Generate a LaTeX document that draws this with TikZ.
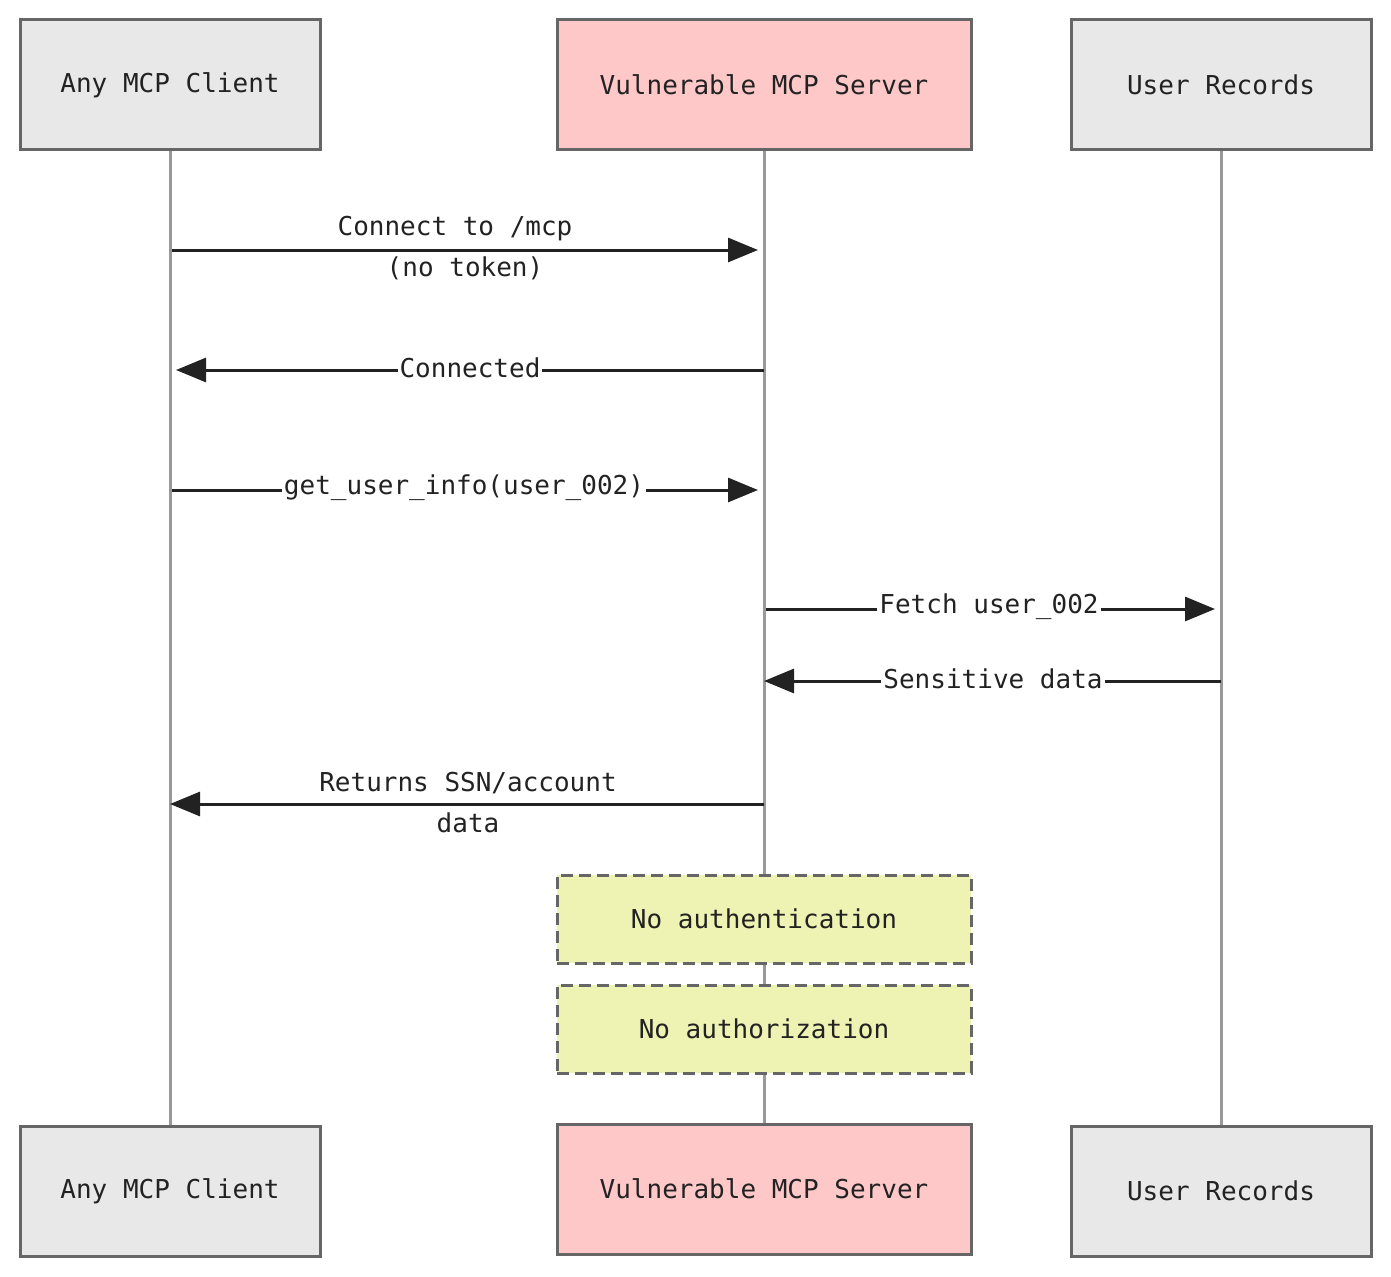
\documentclass[tikz,border=0pt]{standalone}
\usepackage{fontspec}
\setmonofont{DejaVu Sans Mono}
\usetikzlibrary{arrows.meta}
\definecolor{boxg}{HTML}{E8E8E8}
\definecolor{boxr}{HTML}{FFC8C8}
\definecolor{notec}{HTML}{EEF3B3}
\definecolor{bord}{HTML}{666666}
\definecolor{life}{HTML}{999999}
\definecolor{ink}{HTML}{222222}
\begin{document}
\begin{tikzpicture}[x=1pt,y=-1pt,
  every node/.style={font=\ttfamily\fontsize{26}{38}\selectfont, text=ink},
  actor/.style={draw=bord, line width=3pt, minimum height=130pt, inner sep=0pt},
  life/.style={draw=life, line width=3pt},
  msg/.style={draw=ink, line width=3pt, -{Triangle[length=30pt,width=24pt]}},
  lbl/.style={fill=white, inner sep=2pt},
  note/.style={draw=bord, fill=notec, line width=3pt, dash pattern=on 12pt off 6pt, minimum width=414pt, minimum height=88pt, inner sep=0pt}]
\useasboundingbox (0,0) rectangle (1391,1276);
% lifelines
\coordinate (c1) at (170,150); \coordinate (c2) at (170,1126);
\coordinate (s1) at (764,150); \coordinate (s2) at (764,1124);
\coordinate (r1) at (1221,150); \coordinate (r2) at (1221,1126);
\draw[life] (c1) -- (c2);
\draw[life] (s1) -- (s2);
\draw[life] (r1) -- (r2);
% actors
\node[actor, fill=boxg, minimum width=300pt] (ct) at (170,85) {Any MCP Client};
\node[actor, fill=boxr, minimum width=414pt] (st) at (764,85) {Vulnerable MCP Server};
\node[actor, fill=boxg, minimum width=300pt] (rt) at (1221,85) {User Records};
\node[actor, fill=boxg, minimum width=300pt] (cb) at (170,1191) {Any MCP Client};
\node[actor, fill=boxr, minimum width=414pt] (sb) at (764,1189) {Vulnerable MCP Server};
\node[actor, fill=boxg, minimum width=300pt] (rb) at (1221,1191) {User Records};
% messages
\coordinate (a1) at (172,250); \coordinate (b1) at (758,250);
\draw[msg] (a1) -- (b1);
\node[lbl] (l1) at (455,229) {Connect to /mcp};
\node (l1b) at (465,268) {(no token)};
\coordinate (a2) at (764,370); \coordinate (b2) at (176,370);
\draw[msg] (a2) -- (b2);
\node[lbl] (l2) at (470,368) {Connected};
\coordinate (a3) at (172,490); \coordinate (b3) at (758,490);
\draw[msg] (a3) -- (b3);
\node[lbl] (l3) at (464,488) {get\_user\_info(user\_002)};
\coordinate (a4) at (766,609); \coordinate (b4) at (1215,609);
\draw[msg] (a4) -- (b4);
\node[lbl] (l4) at (989,607) {Fetch user\_002};
\coordinate (a5) at (1221,681); \coordinate (b5) at (764,681);
\draw[msg] (a5) -- (b5);
\node[lbl] (l5) at (993,679) {Sensitive data};
\coordinate (a6) at (764,804); \coordinate (b6) at (170,804);
\draw[msg] (a6) -- (b6);
\node[lbl] (l6) at (468,783) {Returns SSN/account};
\node (l6b) at (468,823) {data};
% notes
\node[note] (n1) at (764,919) {No authentication};
\node[note] (n2) at (764,1029) {No authorization};
\end{tikzpicture}
\end{document}
